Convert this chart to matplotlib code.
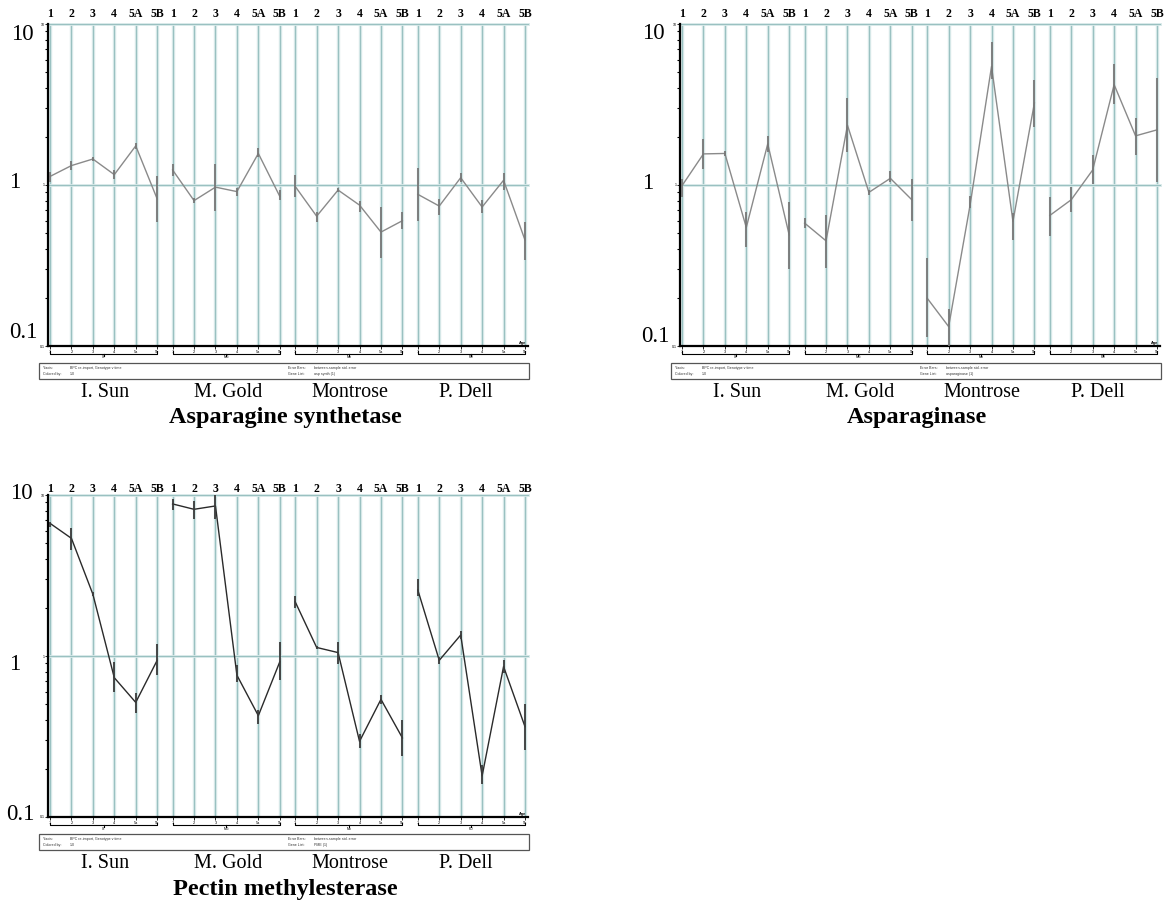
import numpy as np
import matplotlib.pyplot as plt
from matplotlib.patches import Rectangle
from matplotlib.transforms import blended_transform_factory

plt.rcParams['font.family'] = ['Liberation Serif', 'DejaVu Serif']

W, H = 1175, 906

stages = ['1', '2', '3', '4', '5A', '5B']
stage_ticks = ['1', '2', '3', '4', '5a', '5b']
cultivars = ['I. Sun', 'M. Gold', 'Montrose', 'P. Dell']
group_codes = ['IS', 'MG', 'Mo', 'PD']

# asparagine synthetase: value, lower and upper end of error bar
asn_val = [1.13, 1.32, 1.45, 1.16, 1.75, 0.82,
           1.24, 0.80, 0.97, 0.91, 1.57, 0.85,
           0.98, 0.64, 0.93, 0.75, 0.51, 0.60,
           0.875, 0.74, 1.11, 0.73, 1.07, 0.455]
asn_lo = [1.044, 1.24, 1.41, 1.09, 1.68, 0.589,
          1.14, 0.77, 0.69, 0.86, 1.49, 0.81,
          0.84, 0.59, 0.90, 0.677, 0.35, 0.53,
          0.60, 0.65, 1.05, 0.67, 0.93, 0.342]
asn_hi = [1.205, 1.41, 1.49, 1.24, 1.82, 1.14,
          1.35, 0.83, 1.35, 0.96, 1.70, 0.93,
          1.15, 0.68, 0.96, 0.80, 0.733, 0.683,
          1.275, 0.819, 1.18, 0.807, 1.19, 0.59]

# asparaginase
asp_val = [0.99, 1.56, 1.57, 0.545, 1.80, 0.49,
           0.58, 0.45, 2.35, 0.90, 1.10, 0.81,
           0.198, 0.132, 0.75, 5.45, 0.594, 3.23,
           0.647, 0.81, 1.24, 4.20, 2.02, 2.20]
asp_lo = [0.846, 1.25, 1.52, 0.414, 1.61, 0.30,
          0.543, 0.306, 1.61, 0.87, 1.05, 0.598,
          0.113, 0.099, 0.72, 4.55, 0.455, 2.30,
          0.482, 0.677, 1.02, 3.18, 1.54, 1.05]
asp_hi = [1.09, 1.93, 1.62, 0.68, 2.01, 0.78,
          0.62, 0.65, 3.49, 0.93, 1.22, 1.09,
          0.353, 0.17, 0.85, 7.70, 0.67, 4.49,
          0.846, 0.967, 1.54, 5.65, 2.62, 4.60]

# pectin methylesterase
pme_val = [6.67, 5.38, 2.42, 0.733, 0.515, 0.94,
           8.80, 8.15, 8.55, 0.76, 0.426, 0.92,
           2.17, 1.13, 1.05, 0.295, 0.538, 0.31,
           2.57, 0.94, 1.35, 0.18, 0.86, 0.364]
pme_lo = [6.35, 4.55, 2.35, 0.60, 0.44, 0.76,
          8.08, 7.10, 7.10, 0.686, 0.376, 0.71,
          1.98, 1.10, 0.89, 0.27, 0.50, 0.24,
          2.36, 0.89, 1.27, 0.16, 0.788, 0.26]
pme_hi = [6.82, 6.20, 2.50, 0.922, 0.586, 1.19,
          9.43, 9.20, 10.4, 0.88, 0.46, 1.22,
          2.36, 1.16, 1.22, 0.33, 0.57, 0.40,
          3.01, 0.99, 1.42, 0.21, 0.944, 0.50]

fig = plt.figure(figsize=(W / 100, H / 100), dpi=100)
fig.set_facecolor('white')

GAP = 0.72
pos = np.array([g * (5 + GAP) + i for g in range(4) for i in range(6)], dtype=float)


def fx(x):
    return x / W


def fy(y):
    return 1 - y / H


def draw_panel(ox, oy, vals, lo, hi, line_col, err_col, gene, title, ylab_pos, top_y):
    ax = fig.add_axes([fx(ox + 48), fy(oy + 346), 480 / W, 322 / H])
    ax.set_yscale('log')
    ax.set_ylim(0.1, 10)
    ax.set_xlim(-0.093, pos[-1] + 0.14)
    tr = blended_transform_factory(ax.transData, fig.transFigure)

    for p in pos:
        ax.axvline(p, color='#d5e7e7', lw=2.4, zorder=1)
        ax.axvline(p, color='#99c0c0', lw=0.7, zorder=1)
    for yv in (1, 10):
        ax.axhline(yv, color='#d5e7e7', lw=2.0, zorder=1, clip_on=False)
        ax.axhline(yv, color='#99c0c0', lw=0.7, zorder=1, clip_on=False)

    vals = np.array(vals)
    lo = np.array(lo)
    hi = np.array(hi)
    for g in range(4):
        s = slice(g * 6, g * 6 + 6)
        ax.plot(pos[s], vals[s], color=line_col, lw=1.0, zorder=3)
        ax.errorbar(pos[s], vals[s], yerr=[vals[s] - lo[s], hi[s] - vals[s]],
                    fmt='none', ecolor=err_col, elinewidth=1.3, capsize=0, zorder=4)

    for side in ('top', 'right'):
        ax.spines[side].set_visible(False)
    for side in ('left', 'bottom'):
        ax.spines[side].set_linewidth(1.6)
        ax.spines[side].set_color('black')

    ax.set_xticks(pos)
    ax.set_xticklabels(stage_ticks * 4, fontsize=2.8, family='Liberation Sans')
    ax.tick_params(axis='x', length=2, width=0.6, pad=1)
    ax.set_yticks([0.1, 1, 10])
    ax.set_yticklabels(['0.1', '1', '10'], fontsize=2.6, family='Liberation Sans')
    ax.tick_params(axis='y', which='major', length=2, width=0.6, pad=0.5)
    ax.tick_params(axis='y', which='minor', length=2.5, width=0.8)

    # stage labels above
    for p, st in zip(pos, stages * 4):
        ax.text(p, fy(oy + top_y), st, transform=tr, ha='center', va='center',
                fontsize=8.5, fontweight='bold')

    # group brackets under the axis
    for g in range(4):
        p0, p1 = pos[g * 6], pos[g * 6 + 5]
        pm = (p0 + p1) / 2
        ax.plot([p0, p0, p1, p1], [fy(oy + 351.5), fy(oy + 354), fy(oy + 354), fy(oy + 351.5)],
                transform=tr, clip_on=False, color='black', lw=0.8)
        ax.plot([pm, pm], [fy(oy + 354), fy(oy + 355.5)], transform=tr, clip_on=False,
                color='black', lw=0.8)
        ax.text(pm, fy(oy + 357.5), group_codes[g], transform=tr, ha='center', va='center',
                fontsize=2.5, family='Liberation Sans')
    fig.text(fx(ox + 523), fy(oy + 343), 'Age', ha='center', va='center', fontsize=2.8,
             family='Liberation Sans', fontweight='bold')

    # big y labels
    for (lx, ly), txt in zip(ylab_pos, ['10', '1', '0.1']):
        fig.text(fx(ox + lx), fy(oy + ly), txt, ha='center', va='center', fontsize=16.5)

    # info box
    fig.add_artist(Rectangle((fx(ox + 39), fy(oy + 379)), 490 / W, 16 / H,
                             transform=fig.transFigure, fill=False, lw=0.9, ec='#555555'))
    info = [('Y-axis:', 'BPC re-import, Genotype v time', 'Error Bars:', 'between-sample std. error'),
            ('Colored by:', '1:0', 'Gene List:', gene)]
    for row, y in zip(info, (368, 373.7)):
        for txt, x in zip(row, (43, 70, 288, 314)):
            fig.text(fx(ox + x), fy(oy + y), txt, ha='left', va='center', fontsize=2.6,
                     family='Liberation Sans', color='#333333')

    for name, x in zip(cultivars, (105, 228, 350, 466)):
        fig.text(fx(ox + x), fy(oy + 392.5), name, ha='center', va='center', fontsize=14.5)
    fig.text(fx(ox + 285), fy(oy + 418), title, ha='center', va='center', fontsize=17.5,
             fontweight='bold')
    return ax


draw_panel(0, 0, asn_val, asn_lo, asn_hi, '#8a8a8a', '#777777', 'asp synth (1)',
           'Asparagine synthetase', [(22, 34.5), (15, 183), (23, 332)], 14)
draw_panel(632, 0, asp_val, asp_lo, asp_hi, '#8a8a8a', '#777777', 'asparaginase (1)',
           'Asparaginase', [(21.5, 33.5), (15.5, 183.5), (23, 336.5)], 14)
draw_panel(0, 471, pme_val, pme_lo, pme_hi, '#2a2a2a', '#3a3a3a', 'PME (1)',
           'Pectin methylesterase', [(21.5, 22.5), (15, 193.5), (20, 344)], 18)

fig.savefig('out.png', dpi=100, facecolor='white')
